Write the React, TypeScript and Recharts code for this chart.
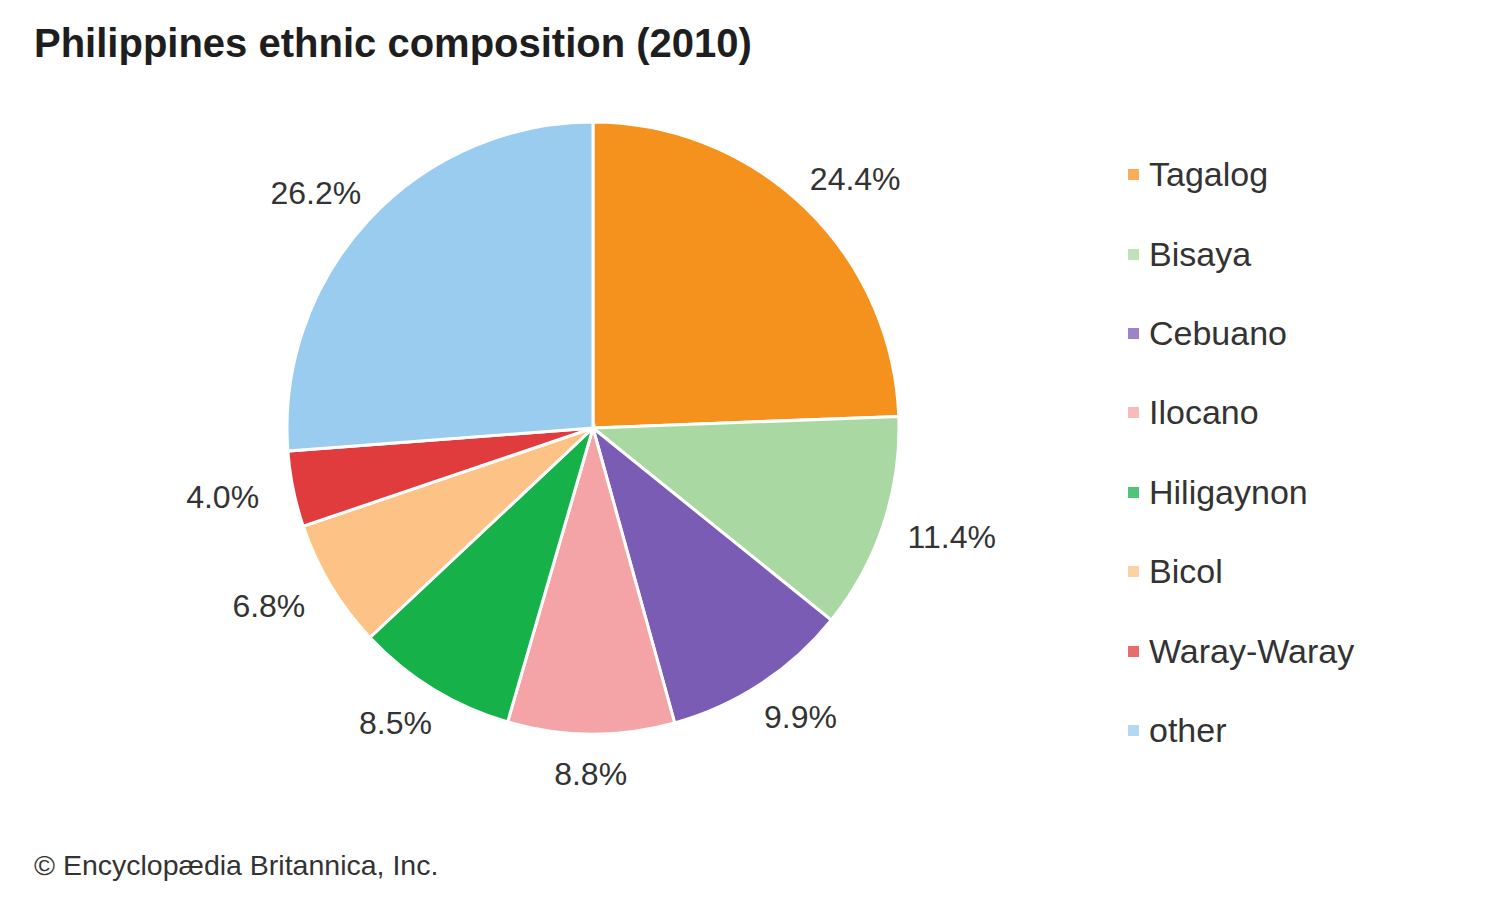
import { PieChart, Pie, Cell, Legend } from "recharts";

const groups = [
  "Tagalog",
  "Bisaya",
  "Cebuano",
  "Ilocano",
  "Hiligaynon",
  "Bicol",
  "Waray-Waray",
  "other",
];
const shares = [24.4, 11.4, 9.9, 8.8, 8.5, 6.8, 4.0, 26.2];
const colors = [
  "#f5921e",
  "#a9d8a3",
  "#7a5cb4",
  "#f4a4a6",
  "#17b14a",
  "#fdc285",
  "#e03b3d",
  "#99ccee",
];

const data = groups.map((name, i) => ({ name, value: shares[i] }));

const RADIAN = Math.PI / 180;
const FONT = "'Liberation Sans', Arial, sans-serif";

// label sits just outside the rim, pushed out by half its own box
const renderLabel = ({ cx, cy, midAngle, outerRadius, value }: any) => {
  const cos = Math.cos(-midAngle * RADIAN);
  const sin = Math.sin(-midAngle * RADIAN);
  const r = outerRadius + 26;
  const x = cx + r * cos + 46 * cos;
  const y = cy + r * sin + 14 * sin;
  return (
    <text
      x={x}
      y={y}
      textAnchor="middle"
      dominantBaseline="central"
      fill="#333"
      fontSize={32}
      fontFamily={FONT}
    >
      {value.toFixed(1)}%
    </text>
  );
};

const renderLegend = () => (
  <div style={{ fontFamily: FONT }}>
    {groups.map((g, i) => (
      <div
        key={g}
        style={{
          height: 79.4,
          display: "flex",
          alignItems: "center",
          fontSize: 34,
          color: "#333",
        }}
      >
        <span
          style={{
            width: 11,
            height: 11,
            background: colors[i],
            opacity: 0.75,
            marginRight: 10,
            display: "inline-block",
          }}
        />
        {g}
      </div>
    ))}
  </div>
);

export default function App() {
  return (
    <div
      style={{
        position: "absolute",
        left: 0,
        top: 0,
        width: 1500,
        height: 900,
        background: "#fff",
        fontFamily: FONT,
      }}
    >
      <div
        style={{
          position: "absolute",
          left: 34,
          top: 21,
          fontSize: 40,
          fontWeight: "bold",
          color: "#1e1e1e",
          whiteSpace: "nowrap",
        }}
      >
        Philippines ethnic composition (2010)
      </div>

      <PieChart width={1500} height={900}>
        <Pie
          data={data}
          dataKey="value"
          nameKey="name"
          cx={588}
          cy={423}
          outerRadius={306}
          startAngle={90}
          endAngle={-270}
          stroke="#fff"
          strokeWidth={3}
          label={renderLabel}
          labelLine={false}
          isAnimationActive={false}
        >
          {data.map((_, i) => (
            <Cell key={i} fill={colors[i]} />
          ))}
        </Pie>
        <Legend
          layout="vertical"
          content={renderLegend}
          wrapperStyle={{ left: 1128, top: 135, width: 300 }}
        />
      </PieChart>

      <div
        style={{
          position: "absolute",
          left: 34,
          top: 849,
          fontSize: 28.5,
          color: "#333",
          whiteSpace: "nowrap",
        }}
      >
        © Encyclopædia Britannica, Inc.
      </div>
    </div>
  );
}
